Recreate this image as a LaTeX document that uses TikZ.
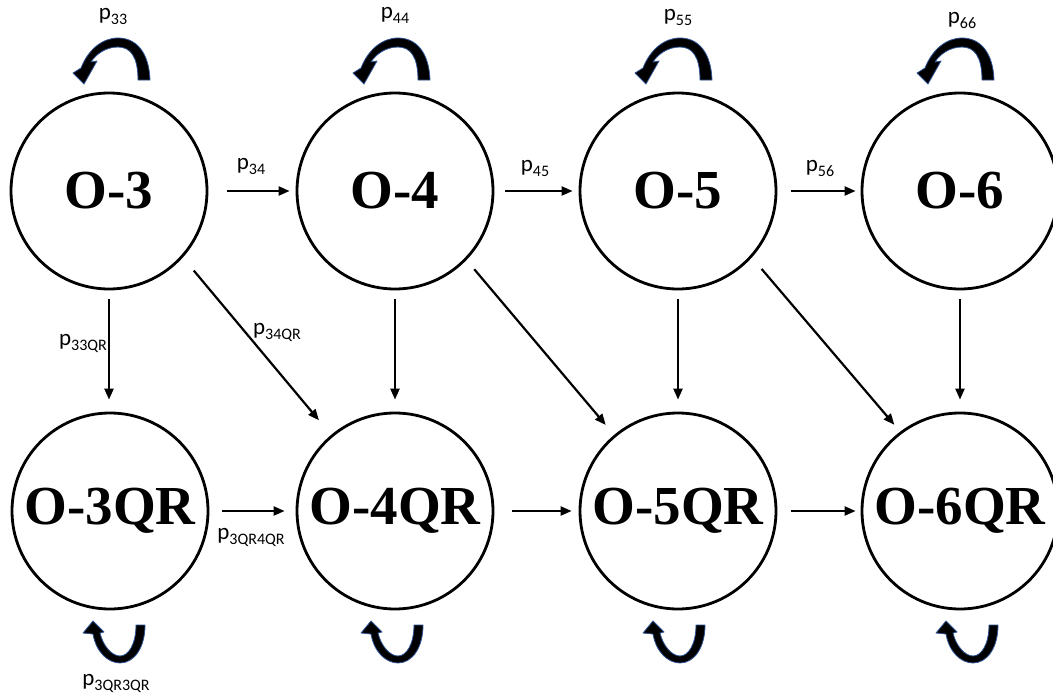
\documentclass[tikz,border=0pt]{standalone}
\usepackage{fontspec}
\setmainfont{Liberation Serif}
\newfontfamily\lblfont{Carlito}
\usetikzlibrary{arrows.meta}
\newcommand\sbs[1]{\raisebox{-5pt}{\fontsize{16}{16}\selectfont #1}}
\newcommand\lbl[1]{p\sbs{#1}}
\definecolor{loopedge}{HTML}{2F5597}
\tikzset{
 state/.style={circle, draw=black, line width=2.8pt, minimum size=196pt, inner sep=0pt, font=\fontsize{55}{60}\selectfont\bfseries},
 arr/.style={line width=2.2pt, -{Triangle[length=11pt,width=9pt]}},
 lab/.style={inner sep=0pt, font=\lblfont\fontsize{23}{25}\selectfont, text=black},
 loopband/.style={fill=black, draw=loopedge, line width=0.8pt, line join=round},
}
\newcommand\toploop[1]{\filldraw[loopband, shift={(#1,0)}] (32,80) -- (20,80) .. controls (20,56) and (12,47) .. (0,47) .. controls (-12,47) and (-22,54) .. (-27,62) -- (-21,61) -- (-34,84) -- (-45,73) -- (-37,68) .. controls (-30,50) and (-16,38) .. (0,38) .. controls (18,38) and (31,52) .. (32,80) -- cycle;}
\newcommand\botloop[1]{\filldraw[loopband, shift={(#1,0)}] (25,625) -- (16,625) .. controls (16,645) and (8,656) .. (0,656) .. controls (-8,656) and (-17,646) .. (-20,633) -- (-16,632) -- (-27,621) -- (-37,633) -- (-27,634) .. controls (-24,652) and (-12,663) .. (0,663) .. controls (14,663) and (25,648) .. (25,625) -- cycle;}
\begin{document}
\begin{tikzpicture}[x=1pt,y=-1pt]
\useasboundingbox[fill=white] (0,0) rectangle (1053,696);
% states
\node[state] (O3) at (109,191) {O-3};
\node[state] (O4) at (395,191) {O-4};
\node[state] (O5) at (678,191) {O-5};
\node[state] (O6) at (960,191) {O-6};
\node[state] (Q3) at (110,511) {O-3QR};
\node[state] (Q4) at (395,511) {O-4QR};
\node[state] (Q5) at (678,511) {O-5QR};
\node[state] (Q6) at (960,511) {O-6QR};
% horizontal arrows, top
\draw[arr, shorten <=19pt, shorten >=6pt] (O3) -- (O4);
\draw[arr, shorten <=11pt, shorten >=6pt] (O4) -- (O5);
\draw[arr, shorten <=14pt, shorten >=5pt] (O5) -- (O6);
% horizontal arrows, bottom
\draw[arr, shorten <=13pt, shorten >=11pt] (Q3) -- (Q4);
\draw[arr, shorten <=18pt, shorten >=7pt] (Q4) -- (Q5);
\draw[arr, shorten <=14pt, shorten >=5pt] (Q5) -- (Q6);
% vertical arrows
\draw[arr, shorten <=9pt, shorten >=12pt] (O3.south) -- (O3.south |- Q3.north);
\draw[arr, shorten <=9pt, shorten >=12pt] (O4.south) -- (Q4.north);
\draw[arr, shorten <=9pt, shorten >=12pt] (O5.south) -- (Q5.north);
\draw[arr, shorten <=9pt, shorten >=12pt] (O6.south) -- (Q6.north);
% diagonal arrows
\draw[arr, shorten <=17pt, shorten >=19pt] (O3.-42) -- (Q4.130);
\draw[arr, shorten <=12pt, shorten >=13pt] (O4.-44) -- (Q5.130);
\draw[arr, shorten <=15pt, shorten >=9pt] (O5.-42) -- (Q6.127);
% self loops
\toploop{118}
\toploop{398}
\toploop{680}
\toploop{962}
\botloop{120}
\botloop{398}
\botloop{680}
\botloop{973}
% labels
\node[lab] (l33) at (113,16) {\lbl{33}};
\node[lab] (l44) at (395,15) {\lbl{44}};
\node[lab] (l55) at (678,17) {\lbl{55}};
\node[lab] (l66) at (962,20) {\lbl{66}};
\node[lab] (l34) at (251,166) {\lbl{34}};
\node[lab] (l45) at (535,168) {\lbl{45}};
\node[lab] (l56) at (820,168) {\lbl{56}};
\node[lab] (l33q) at (83,343) {\lbl{33QR}};
\node[lab] (l34q) at (277,332) {\lbl{34QR}};
\node[lab] (l3q4q) at (251,537) {\lbl{3QR4QR}};
\node[lab] (l3q3q) at (116,683) {\lbl{3QR3QR}};
\end{tikzpicture}
\end{document}
